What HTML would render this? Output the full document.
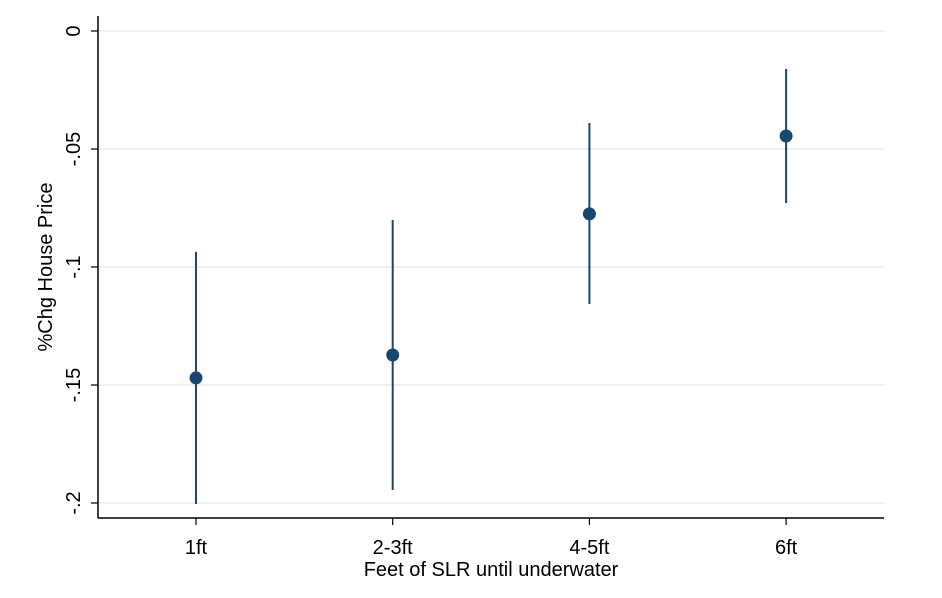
<!DOCTYPE html>
<html><head><meta charset="utf-8"><style>body{margin:0;background:#fff}svg{display:block;font-family:"Liberation Sans",Arial,sans-serif}</style></head>
<body>
<svg id="chart" width="942" height="598" viewBox="0 0 942 598" xmlns="http://www.w3.org/2000/svg">
<g id="grid"></g>
<g id="axes"></g>
<g id="marks"></g>
<text x="491" y="576" font-size="20" text-anchor="middle" fill="#000">Feet of SLR until underwater</text>
<text transform="translate(52,267) rotate(-90)" font-size="20" text-anchor="middle" fill="#000">%Chg House Price</text>
</svg>
<script>
const categories = ["1ft","2-3ft","4-5ft","6ft"];
const estimates = [-0.147, -0.1373, -0.0775, -0.0445];
const ciUpper = [-0.0936, -0.0801, -0.039, -0.0161];
const ciLower = [-0.2004, -0.1945, -0.1157, -0.0729];
const yTicks = [0, -0.05, -0.1, -0.15, -0.2];
const yTickLabels = ["0", "-.05", "-.1", "-.15", "-.2"];

(function(){
const NS = "http://www.w3.org/2000/svg";
const plotLeft = 98, plotRight = 884, plotTop = 16, plotBottom = 518;
const yScale = v => 31 + (-v) * 2360;
const xScale = i => 196 + i * 196.7;
function mk(tag, attrs, parent){const e=document.createElementNS(NS,tag);for(const k in attrs)e.setAttribute(k,attrs[k]);parent.appendChild(e);return e;}
const grid=document.getElementById('grid'), axes=document.getElementById('axes'), marks=document.getElementById('marks');

yTicks.forEach((t,i)=>{
  const g=mk('line',{x1:plotLeft,x2:plotRight,y1:yScale(t),y2:yScale(t),stroke:'#e6eef0','stroke-width':1.5},grid);
  
  
  const tk=mk('line',{x1:plotLeft-7,x2:plotLeft,y1:yScale(t),y2:yScale(t),stroke:'#000','stroke-width':1.2},axes);
  
  
  const tx=mk('text',{transform:`translate(80,${yScale(t)}) rotate(-90)`,'font-size':20,'text-anchor':'middle',fill:'#000'},axes);
  tx.textContent=yTickLabels[i];
  
  
});
const ya=mk('line',{x1:plotLeft,x2:plotLeft,y1:plotTop,y2:plotBottom,stroke:'#000','stroke-width':1.5},axes);


const xa=mk('line',{x1:plotLeft,x2:plotRight,y1:plotBottom,y2:plotBottom,stroke:'#000','stroke-width':1.5},axes);


categories.forEach((c,i)=>{
  const tk=mk('line',{x1:xScale(i),x2:xScale(i),y1:plotBottom,y2:plotBottom+7,stroke:'#000','stroke-width':1.2},axes);
  
  
  const tx=mk('text',{x:xScale(i),y:plotBottom+36,'font-size':20,'text-anchor':'middle',fill:'#000'},axes);
  tx.textContent=c;
  
  
  const ci=mk('line',{x1:xScale(i),x2:xScale(i),y1:yScale(ciUpper[i]),y2:yScale(ciLower[i]),stroke:'#1a476f','stroke-width':2},marks);
  
  
  const pt=mk('circle',{cx:xScale(i),cy:yScale(estimates[i]),r:6.5,fill:'#1a476f'},marks);
  
  
});
})();
</script>
</body></html>
